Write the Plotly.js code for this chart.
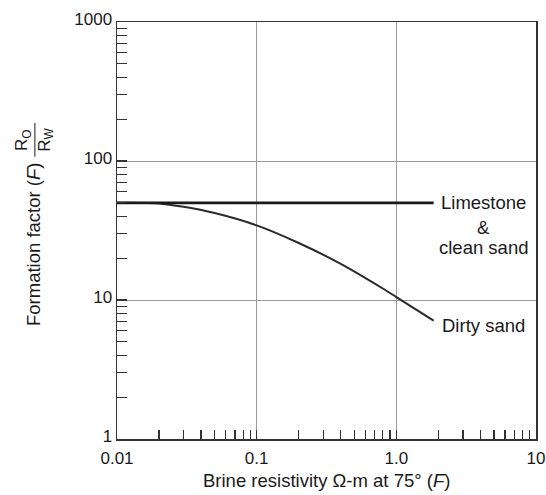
<!DOCTYPE html>
<html><head><meta charset="utf-8">
<script src="https://cdn.plot.ly/plotly-3.0.1.min.js"></script>
<style>body{margin:0;background:#fff}#c{width:546px;height:495px}</style>
</head><body><div id="c"></div>
<script>
// Data
const limestoneX = [0.01, 1.85];
const limestoneF = [50, 50];
const dirtyX = [0.01, 0.02, 0.03, 0.05, 0.1, 0.2, 0.4, 0.8, 1.0, 1.85];
const dirtyF = [50, 49.5, 46.8, 42.2, 34.4, 25.7, 18.2, 12.1, 10.5, 7.1];
const xTickVals = [0.01, 0.1, 1, 10];
const xTickText = ['0.01', '0.1', '1.0', '10'];
const xMinorVals = [0.02, 0.03, 0.04, 0.05, 0.06, 0.07, 0.08, 0.09,
                    0.2, 0.3, 0.4, 0.5, 0.6, 0.7, 0.8, 0.9,
                    2, 3, 4, 5, 6, 7, 8, 9];
const yTickVals = [1, 10, 100, 1000];
const yTickText = ['1', '10', '100', '1000'];
const yMinorVals = [2, 3, 4, 5, 6, 7, 8, 9,
                    20, 30, 40, 50, 60, 70, 80, 90,
                    200, 300, 400, 500, 600, 700, 800, 900];
const labels = [
  {text: 'Limestone', x: 4.24, y: 50.7},
  {text: '&', x: 4.24, y: 33.5},
  {text: 'clean sand', x: 4.24, y: 23.7},
  {text: 'Dirty sand', x: 4.2, y: 6.6}
];
const xTitle = 'Brine resistivity Ω-m at 75° (<i>F</i>)';
const yTitle = 'Formation factor (<i>F</i>)';

const font = 'Liberation Sans, Arial, sans-serif';
const ink = '#1a1a1a';
const traces = [
  {x: dirtyX, y: dirtyF, mode: 'lines', line: {color: '#2a2a2a', width: 2, shape: 'spline', smoothing: 0.8}, hoverinfo: 'skip'},
  {x: limestoneX, y: limestoneF, mode: 'lines', line: {color: '#1a1a1a', width: 2.8}, hoverinfo: 'skip'}
];

const annotations = labels.map(l => ({
  text: l.text, x: Math.log10(l.x), y: Math.log10(l.y), xref: 'x', yref: 'y',
  showarrow: false, font: {family: font, size: 18.5, color: ink}, xanchor: 'center', yanchor: 'middle'
}));
// y-axis title with fraction
annotations.push(
  {text: yTitle, xref: 'paper', yref: 'paper', x: -0.2005, y: 0.4676, textangle: -90,
   showarrow: false, font: {family: font, size: 18.5, color: ink}, xanchor: 'center', yanchor: 'middle'},
  {text: 'R<sub>O</sub>', xref: 'paper', yref: 'paper', x: -0.2243, y: 0.717, textangle: -90,
   showarrow: false, font: {family: font, size: 17, color: ink}, xanchor: 'center', yanchor: 'middle'},
  {text: 'R<sub>W</sub>', xref: 'paper', yref: 'paper', x: -0.170, y: 0.717, textangle: -90,
   showarrow: false, font: {family: font, size: 17, color: ink}, xanchor: 'center', yanchor: 'middle'},
  {text: xTitle, xref: 'paper', yref: 'paper', x: 0.5, y: -0.0985, yanchor: 'middle', xanchor: 'center',
   showarrow: false, font: {family: font, size: 18.5, color: ink}}
);

const layout = {
  width: 546, height: 495,
  margin: {l: 117, r: 10, t: 22, b: 56},
  paper_bgcolor: '#fff', plot_bgcolor: '#fff',
  showlegend: false,
  font: {family: font, color: ink},
  xaxis: {
    type: 'log', range: [-2, 1], tickmode: 'array', tickvals: xTickVals, ticktext: xTickText,
    ticks: 'inside', ticklen: 9, tickcolor: '#333', tickwidth: 1.2,
    minor: {ticks: 'inside', ticklen: 9, tickcolor: '#333', tickwidth: 1.2, tickmode: 'array', tickvals: xMinorVals, showgrid: false},
    showgrid: true, gridcolor: '#9a9a9a', gridwidth: 1,
    showline: true, linecolor: '#333', linewidth: 1.5, mirror: true,
    tickfont: {family: font, size: 17, color: ink}, ticklabelstandoff: 3,
    zeroline: false
  },
  yaxis: {
    type: 'log', range: [0, 3], tickmode: 'array', tickvals: yTickVals, ticktext: yTickText,
    ticks: 'inside', ticklen: 10, tickcolor: '#333', tickwidth: 1.2,
    minor: {ticks: 'inside', ticklen: 10, tickcolor: '#333', tickwidth: 1.2, tickmode: 'array', tickvals: yMinorVals, showgrid: false},
    showgrid: true, gridcolor: '#9a9a9a', gridwidth: 1,
    showline: true, linecolor: '#333', linewidth: 1.5, mirror: true,
    tickfont: {family: font, size: 17, color: ink}, ticklabelshift: -3,
    zeroline: false
  },
  annotations: annotations,
  shapes: [{type: 'line', xref: 'paper', yref: 'paper', x0: -0.196, x1: -0.196, y0: 0.677, y1: 0.758,
    line: {color: ink, width: 1}}]
};

Plotly.newPlot('c', traces, layout, {staticPlot: true});
</script>
</body></html>
